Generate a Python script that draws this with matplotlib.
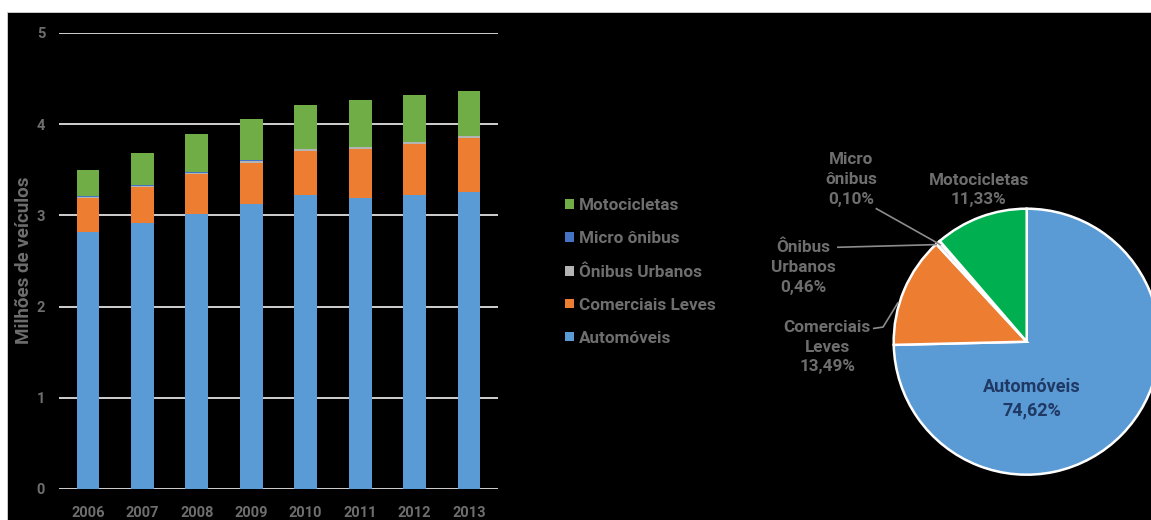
import matplotlib
matplotlib.use("Agg")
import matplotlib.pyplot as plt
from matplotlib.patches import Rectangle, Patch
import numpy as np

# Frota de veículos por categoria (milhões)
anos = ["2006", "2007", "2008", "2009", "2010", "2011", "2012", "2013"]
automoveis = [2.82, 2.92, 3.02, 3.12, 3.22, 3.19, 3.22, 3.26]
comerciais_leves = [0.37, 0.39, 0.43, 0.46, 0.49, 0.54, 0.56, 0.59]
onibus_urbanos = [0.016, 0.017, 0.018, 0.018, 0.019, 0.019, 0.020, 0.020]
micro_onibus = [0.004, 0.004, 0.004, 0.004, 0.004, 0.004, 0.004, 0.004]
motocicletas = [0.29, 0.35, 0.42, 0.45, 0.48, 0.51, 0.52, 0.495]

# Participação por categoria em 2013 (%)
pie_labels = ["Automóveis", "Comerciais\nLeves", "Ônibus\nUrbanos", "Micro\nônibus", "Motocicletas"]
pie_values = [74.62, 13.49, 0.46, 0.10, 11.33]

y_ticks = [0, 1, 2, 3, 4, 5]

plt.rcParams["font.family"] = ["Roboto", "DejaVu Sans"]

W, H = 1151, 520
fig = plt.figure(figsize=(W / 100, H / 100), dpi=100, facecolor="black")

TXT = "#6E6E6E"
c_auto, c_com, c_oni, c_mic, c_mot = "#5B9BD5", "#ED7D31", "#B4B4B4", "#4472C4", "#70AD47"

# white page margin on top and left
fig.patches.append(Rectangle((0, 1 - 12 / H), 1, 12 / H, transform=fig.transFigure,
                             facecolor="white", edgecolor="none", zorder=10))
fig.patches.append(Rectangle((0, 0), 7 / W, 1, transform=fig.transFigure,
                             facecolor="white", edgecolor="none", zorder=10))
fig.patches.append(Rectangle((7 / W, 0), 1.2 / W, 1 - 12 / H, transform=fig.transFigure,
                             facecolor="#C8C8C8", edgecolor="none", zorder=10))
fig.patches.append(Rectangle((7 / W, 1 - 13.2 / H), 1, 1.2 / H, transform=fig.transFigure,
                             facecolor="#C8C8C8", edgecolor="none", zorder=10))

# ---- stacked bars ----
ax = fig.add_axes([59 / W, (H - 489) / H, 439 / W, 456 / H])
ax.set_facecolor("black")
x = np.arange(len(anos))
bw = 0.42
series = [
    (automoveis, c_auto, "Automóveis"),
    (comerciais_leves, c_com, "Comerciais Leves"),
    (onibus_urbanos, c_oni, "Ônibus Urbanos"),
    (micro_onibus, c_mic, "Micro ônibus"),
    (motocicletas, c_mot, "Motocicletas"),
]
bottom = np.zeros(len(anos))
handles = []
for vals, col, lab in series:
    ax.bar(x, vals, bw, bottom=bottom, color=col, zorder=3, linewidth=0)
    bottom += np.array(vals)
    handles.append(Patch(facecolor=col, edgecolor="none", label=lab))

ax.set_ylim(0, 5)
ax.set_xlim(-0.533, 7.533)
ax.set_yticks(y_ticks)
ax.set_yticklabels([str(t) for t in y_ticks])
ax.set_xticks(x)
ax.set_xticklabels(anos)
ax.grid(axis="y", color="#E0E0E0", linewidth=1.3, zorder=1)
ax.tick_params(length=0, colors=TXT, labelsize=10.5)
ax.tick_params(axis="y", pad=10)
ax.tick_params(axis="x", pad=12)
for lbl in ax.get_xticklabels() + ax.get_yticklabels():
    lbl.set_fontweight("bold")
for s in ax.spines.values():
    s.set_visible(False)
ax.set_ylabel("Milhões de veículos", color=TXT, fontsize=13.5, fontweight="bold")
ax.yaxis.set_label_coords((33 - 59) / 439, (489 - 260) / 456)

leg = fig.legend(handles=handles[::-1], loc="upper left",
                 bbox_to_anchor=(550 / W, 1 - 183 / H), frameon=False,
                 fontsize=12.3, handlelength=0.5, handleheight=0.5, handletextpad=0.3,
                 labelspacing=1.05)
for t in leg.get_texts():
    t.set_color(TXT)
    t.set_fontweight("bold")

# ---- pie ----
cx, cy, R = 1026.7, 341.7, 133.0
L = 2 * R
pax = fig.add_axes([(cx - L) / W, (H - cy - L) / H, 2 * L / W, 2 * L / H])
pax.set_facecolor("none")
pie_colors = [c_auto, c_com, "#D9D9D9", c_mic, "#00B050"]
pax.pie(pie_values, colors=pie_colors, startangle=90, counterclock=False, radius=1,
        wedgeprops=dict(edgecolor="white", linewidth=1.8))
pax.set_xlim(-2, 2)
pax.set_ylim(-2, 2)
pax.set_aspect("equal")
pax.axis("off")

def pct(v):
    return f"{v:.2f}".replace(".", ",") + "%"

label_pos = [(0.04, -0.43), (-1.50, -0.04), (-1.68, 0.56), (-1.32, 1.22), (-0.36, 1.14)]
for i, (lab, v) in enumerate(zip(pie_labels, pie_values)):
    col = "#1F3864" if i == 0 else TXT
    fs = 13 if i == 0 else 12.3
    pax.text(label_pos[i][0], label_pos[i][1], f"{lab}\n{pct(v)}", ha="center", va="center",
             color=col, fontsize=fs, fontweight="bold", linespacing=1.4)

# leader lines
lc = "#8C8C8C"
pax.plot([-1.13, -0.65], [1.00, 0.73], color=lc, lw=1.2)
pax.plot([-1.42, -0.68], [0.71, 0.73], color=lc, lw=1.2)
pax.plot([-1.15, -1.08, -0.97], [0.10, 0.11, 0.29], color=lc, lw=1.2)

fig.savefig("out.png", dpi=100, facecolor="black")
